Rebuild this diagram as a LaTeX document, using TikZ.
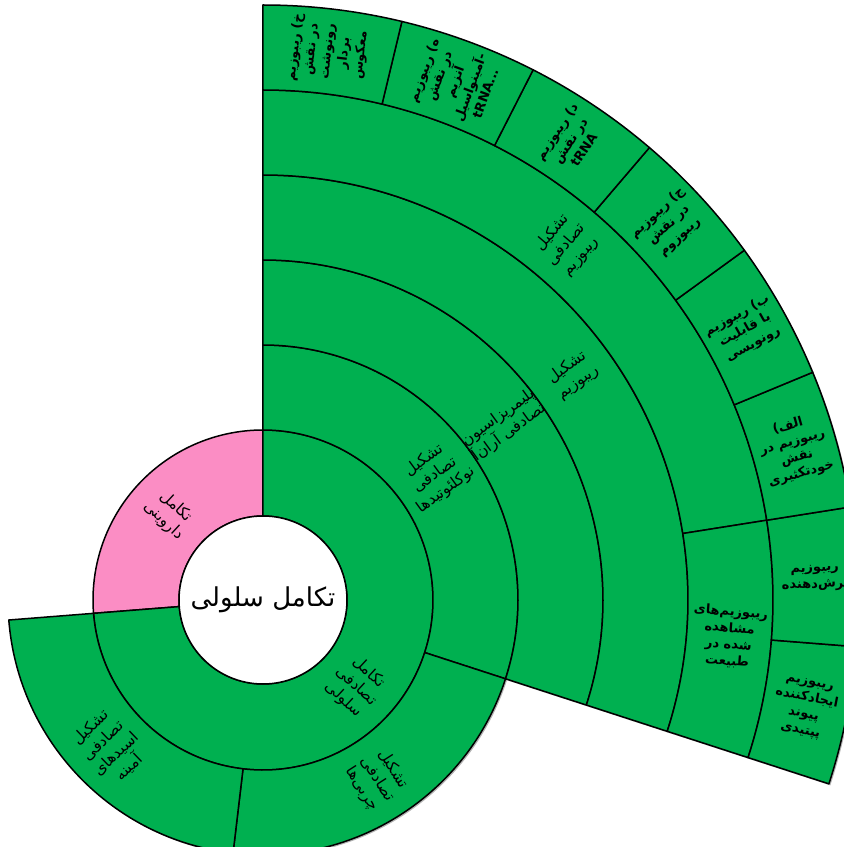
\documentclass[tikz,border=0pt]{standalone}
\usepackage{fontspec}
\usepackage{xcolor}
\usetikzlibrary{shadows}
\newfontfamily\farsi[Script=Arabic]{DejaVu Sans}
\TeXXeTstate=1
\definecolor{segGreen}{HTML}{00B050}
\definecolor{segPink}{HTML}{FB8DC4}
% one piece of a ring: fill, start angle, end angle, inner radius, outer radius
\newcommand{\ringpart}[5]{%
  \filldraw[seg, fill=#1] (#2:#4pt) arc[start angle=#2, end angle=#3, radius=#4pt]
    -- (#3:#5pt) arc[start angle=#3, end angle=#2, radius=#5pt] -- cycle;}
\newcommand{\rl}[1]{\beginR #1\endR}
\tikzset{
  seg/.style={draw=black, line width=1.5pt, line join=round},
  lbl/.style={font=\farsi\fontsize{15.5}{18.5}\selectfont, align=center, inner sep=0pt},
  leaf/.style={lbl, font=\farsi\bfseries\fontsize{13}{16.5}\selectfont}
}

\begin{document}
\begin{tikzpicture}
    \useasboundingbox (-263pt,-247pt) rectangle (581pt,600pt);
    % soft shadow under the whole chart
    \fill[segGreen, drop shadow={shadow xshift=1.5pt, shadow yshift=-1.5pt, opacity=.6}]
      (90:595pt) arc[start angle=90, end angle=-18, radius=595pt]
      -- (-18:255pt) arc[start angle=-18, end angle=-175.5, radius=255pt]
      -- (184.5:170pt) arc[start angle=184.5, end angle=90, radius=170pt] -- cycle;
    % inner rings
    \foreach \a/\b/\ri/\ro/\c in {90/184.5/84/170/segPink, -175.5/90/84/170/segGreen,
        -18/90/170/255/segGreen, -96.75/-18/170/255/segGreen, -175.5/-96.75/170/255/segGreen,
        -18/90/255/340/segGreen, -18/90/340/425/segGreen,
        9/90/425/510/segGreen, -18/9/425/510/segGreen}
      { \ringpart{\c}{\a}{\b}{\ri}{\ro} };
    % outer ring
    \foreach \a in {-18,-4.5,9,22.5,36,49.5,63,76.5}
      { \pgfmathsetmacro\b{\a+13.5} \ringpart{segGreen}{\a}{\b}{510}{595} };
    \filldraw[seg, fill=white] (0,0) circle (84pt);

    \node[lbl, font=\farsi\fontsize{26}{30}\selectfont] (core) at (0,0) {\rl{تکامل سلولی}};
    \node[lbl, rotate=-42.75] (darwin) at (137.25:127pt) {\rl{تکامل}\\\rl{داروینی}};
    \node[lbl, rotate=-42.75] (cellular) at (-42.75:127pt) {\rl{تکامل}\\\rl{تصادفی}\\\rl{سلولی}};
    \node[lbl, rotate=36] (nucl) at (36:212.5pt) {\rl{تشکیل}\\\rl{تصادفی}\\\rl{نوکلئوتیدها}};
    \node[lbl, rotate=-57.4] (lipid) at (-57.4:212.5pt) {\rl{تشکیل}\\\rl{تصادفی}\\\rl{چربی‌ها}};
    \node[lbl, rotate=43.9] (amino) at (-136.1:212.5pt) {\rl{تشکیل}\\\rl{تصادفی}\\\rl{اسیدهای}\\\rl{آمینه}};
    \node[lbl, rotate=36] (rnapoly) at (36:297.5pt) {\rl{پلیمریزاسیون}\\\rl{تصادفی آران‌آ}};
    \node[lbl, rotate=36] (ribo) at (36:382.5pt) {\rl{تشکیل}\\\rl{ریبوزیم}};
    \node[lbl, rotate=49.5] (randribo) at (49.5:467.5pt) {\rl{تشکیل}\\\rl{تصادفی}\\\rl{ریبوزیم}};
    \node[leaf, rotate=-4.5] (nature) at (-4.5:467.5pt) {\rl{ریبوزیم‌های}\\\rl{مشاهده}\\\rl{شده در}\\\rl{طبیعت}};

    \node[leaf, rotate=-11.25] (peptide) at (-11.25:552.5pt) {\rl{ریبوزیم}\\\rl{ایجادکننده}\\\rl{پیوند}\\\rl{پپتیدی}};
    \node[leaf, rotate=2.25] (cutter) at (2.25:552.5pt) {\rl{ریبوزیم}\\\rl{برش‌دهنده}};
    \node[leaf, rotate=15.75] (leafA) at (15.75:552.5pt) {\rl{الف)}\\\rl{ریبوزیم در}\\\rl{نقش}\\\rl{خودتکثیری}};
    \node[leaf, rotate=29.25] (leafB) at (29.25:552.5pt) {\rl{ب) ریبوزیم}\\\rl{با قابلیت}\\\rl{رونویسی}};
    \node[leaf, rotate=42.75] (leafC) at (42.75:552.5pt) {\rl{ج) ریبوزیم}\\\rl{در نقش}\\\rl{ریبوزوم}};
    \node[leaf, rotate=56.25] (leafD) at (56.25:552.5pt) {\rl{د) ریبوزیم}\\\rl{در نقش}\\tRNA};
    \node[leaf, rotate=69.75] (leafE) at (69.75:552.5pt) {\rl{ه) ریبوزیم}\\\rl{در نقش}\\\rl{آنزیم}\\\rl{-آمینواسیل}\\tRNA...};
    \node[leaf, rotate=83.25] (leafF) at (83.25:552.5pt) {\rl{خ) ریبوزیم}\\\rl{در نقش}\\\rl{رونوشت}\\\rl{بردار}\\\rl{معکوس}};
\end{tikzpicture}
\end{document}
